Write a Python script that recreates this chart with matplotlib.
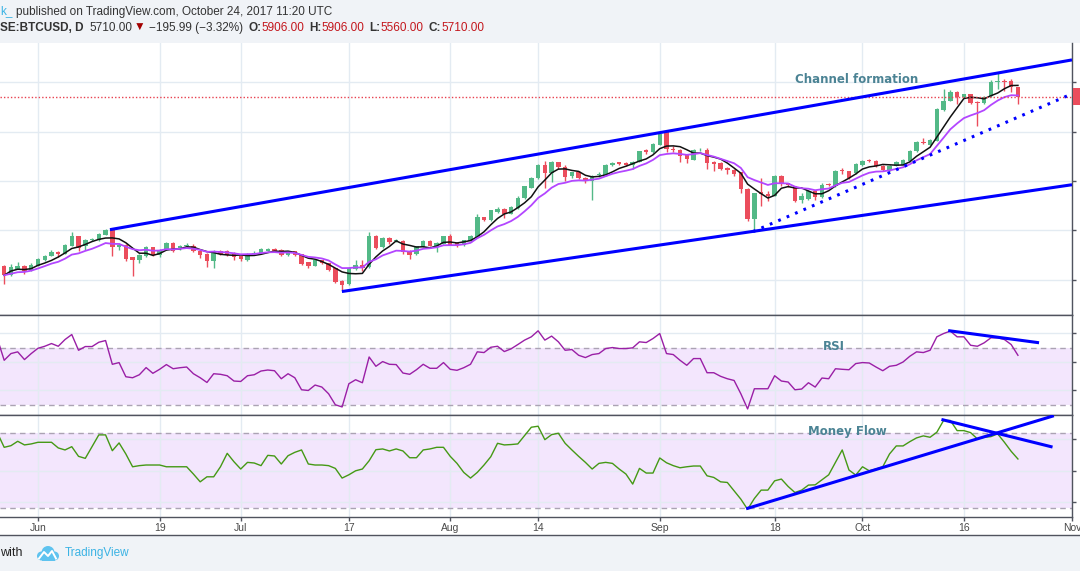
import matplotlib
matplotlib.use("Agg")
import matplotlib.pyplot as plt
import numpy as np
import pandas as pd
from matplotlib.patches import Rectangle, Circle
from matplotlib.lines import Line2D

plt.rcParams["font.family"] = ["Liberation Sans", "DejaVu Sans"]

# daily candles, day 0 = 1 June 2017 (27 May .. 24 Oct)
days = np.arange(-5, 146)
opens = [2289, 2094, 2228, 2289, 2195, 2289, 2410, 2491, 2558, 2525,
         2693, 2882, 2679, 2800, 2800, 2915, 3016, 2666, 2713, 2457,
         2396, 2477, 2659, 2511, 2612, 2747, 2626, 2690, 2693, 2592,
         2525, 2390, 2592, 2578, 2545, 2477, 2410, 2531, 2545, 2590,
         2626, 2612, 2497, 2578, 2525, 2356, 2289, 2396, 2343, 2242,
         1972, 1919, 2228, 2309, 2262, 2882, 2659, 2848, 2790, 2780,
         2592, 2517, 2673, 2794, 2666, 2733, 2882, 2747, 2700, 2780,
         2848, 3265, 3218, 3373, 3440, 3339, 3454, 3656, 3858, 4060,
         4329, 4161, 4383, 4282, 4093, 4181, 4060, 3993, 4115, 4127,
         4315, 4376, 4363, 4329, 4390, 4618, 4586, 4733, 4990, 4652,
         4632, 4517, 4430, 4640, 4632, 4376, 4363, 4262, 4228, 4174,
         3838, 3238, 3770, 3743, 3703, 4107, 3959, 3891, 3622, 3636,
         3790, 3677, 3935, 3891, 4215, 4194, 4161, 4329, 4420, 4410,
         4309, 4214, 4309, 4329, 4396, 4598, 4780, 4733, 4820, 5440,
         5628, 5810, 5697, 5757, 5600, 5575, 5723, 6012, 6030, 6032,
         5906]
highs = [2300, 2330, 2370, 2300, 2340, 2440, 2500, 2610, 2580, 2730,
         2960, 2890, 2830, 2850, 2945, 3020, 3020, 2740, 2720, 2470,
         2520, 2680, 2670, 2630, 2760, 2770, 2710, 2740, 2720, 2600,
         2540, 2600, 2610, 2600, 2570, 2490, 2540, 2590, 2640, 2650,
         2640, 2620, 2590, 2590, 2530, 2370, 2420, 2410, 2350, 2250,
         1990, 2260, 2410, 2400, 2960, 2900, 2870, 2860, 2820, 2800,
         2600, 2690, 2810, 2800, 2760, 2890, 2920, 2760, 2810, 2900,
         3330, 3270, 3420, 3480, 3450, 3500, 3700, 3900, 4080, 4340,
         4410, 4400, 4390, 4320, 4190, 4200, 4080, 4120, 4180, 4345,
         4380, 4390, 4375, 4400, 4610, 4650, 4770, 4970, 5000, 4700,
         4640, 4530, 4650, 4670, 4660, 4400, 4380, 4280, 4240, 4180,
         3850, 3760, 4060, 3800, 4120, 4120, 3970, 3900, 3760, 3820,
         3800, 3950, 3960, 4220, 4260, 4210, 4360, 4420, 4440, 4420,
         4320, 4320, 4400, 4450, 4630, 4800, 4880, 4850, 5470, 5860,
         5850, 5830, 5770, 5770, 5620, 5720, 6040, 6180, 6060, 6060,
         5906]
lows = [1925, 2080, 2210, 2120, 2180, 2280, 2390, 2480, 2470, 2520,
        2680, 2590, 2610, 2780, 2790, 2910, 2477, 2600, 2380, 2073,
        2350, 2460, 2480, 2470, 2600, 2560, 2600, 2660, 2560, 2440,
        2255, 2250, 2500, 2490, 2400, 2390, 2390, 2510, 2520, 2590,
        2560, 2480, 2480, 2480, 2310, 2250, 2280, 2320, 2180, 1930,
        1800, 1900, 2200, 2174, 2250, 2620, 2640, 2730, 2770, 2520,
        2430, 2500, 2660, 2680, 2560, 2720, 2700, 2660, 2690, 2770,
        2840, 3200, 3200, 3360, 3250, 3330, 3440, 3640, 3850, 4050,
        3858, 3980, 4250, 4000, 4060, 4040, 3960, 3622, 4090, 4110,
        4300, 4320, 4310, 4240, 4380, 4550, 4570, 4720, 4590, 4590,
        4380, 4370, 4420, 4610, 4250, 4200, 4230, 4150, 4100, 3750,
        3190, 2980, 3487, 3600, 3690, 3900, 3880, 3570, 3560, 3620,
        3620, 3660, 3890, 3880, 4150, 4040, 4140, 4310, 4390, 4280,
        4200, 4200, 4300, 4320, 4390, 4590, 4740, 4720, 4810, 5420,
        5610, 5560, 5680, 5560, 5117, 5560, 5700, 5870, 5820, 5800,
        5560]
closes = [2094, 2262, 2289, 2188, 2303, 2430, 2491, 2558, 2531, 2713,
          2882, 2646, 2814, 2820, 2935, 3016, 2659, 2713, 2430, 2396,
          2497, 2659, 2497, 2612, 2747, 2592, 2693, 2700, 2578, 2497,
          2390, 2592, 2531, 2511, 2457, 2424, 2531, 2545, 2626, 2626,
          2578, 2497, 2578, 2497, 2329, 2289, 2396, 2343, 2208, 1952,
          1905, 2242, 2309, 2242, 2882, 2646, 2848, 2760, 2810, 2558,
          2511, 2679, 2794, 2693, 2747, 2882, 2713, 2700, 2800, 2882,
          3265, 3218, 3406, 3440, 3339, 3467, 3656, 3891, 4060, 4329,
          4161, 4383, 4275, 4080, 4174, 4060, 3993, 4107, 4135, 4329,
          4363, 4343, 4329, 4390, 4598, 4578, 4753, 4955, 4652, 4618,
          4497, 4444, 4618, 4650, 4363, 4343, 4248, 4214, 4147, 3838,
          3238, 3757, 3743, 3703, 4107, 3959, 3925, 3602, 3703, 3804,
          3677, 3925, 3910, 4194, 4200, 4060, 4349, 4410, 4410, 4295,
          4214, 4309, 4376, 4430, 4612, 4780, 4760, 4834, 5454, 5628,
          5810, 5697, 5757, 5575, 5588, 5697, 6012, 6032, 6010, 5911,
          5710]

# indicator values, one day earlier so the lines reach the left edge
ind_days = np.arange(-6, 146)
rsi = [76.0, 61.1, 65.8, 67.0, 61.6, 65.8, 69.5, 70.9, 72.8, 70.9,
       75.6, 79.1, 68.1, 70.7, 70.7, 73.7, 74.9, 58.3, 59.5, 49.6,
       48.9, 51.0, 56.0, 52.0, 54.8, 58.1, 55.2, 55.9, 56.4, 51.7,
       48.9, 45.6, 51.7, 51.3, 50.3, 46.6, 46.3, 50.3, 51.0, 53.6,
       54.3, 53.8, 48.2, 51.7, 48.9, 40.5, 40.0, 43.8, 42.4, 37.7,
       30.0, 28.5, 44.7, 47.5, 45.4, 63.4, 56.9, 60.2, 58.3, 58.1,
       52.2, 51.3, 54.5, 58.3, 55.5, 55.5, 59.5, 54.8, 54.1, 55.9,
       58.3, 67.0, 66.5, 70.2, 70.9, 67.2, 69.1, 72.1, 75.2, 77.5,
       81.7, 75.2, 78.0, 74.0, 68.1, 68.6, 64.6, 63.0, 65.1, 65.8,
       69.3, 70.0, 69.3, 69.3, 69.8, 74.0, 73.5, 76.3, 79.8, 65.8,
       65.1, 61.1, 57.6, 62.3, 62.3, 52.4, 52.4, 49.9, 48.2, 47.0,
       37.7, 27.1, 41.2, 41.2, 41.2, 50.3, 46.6, 45.9, 40.5, 41.0,
       45.4, 42.4, 48.7, 48.2, 55.2, 54.8, 54.5, 58.8, 59.5, 59.2,
       56.4, 53.8, 56.9, 57.6, 59.9, 63.9, 67.0, 66.5, 68.1, 77.5,
       79.8, 81.5, 77.5, 77.5, 71.6, 70.9, 73.3, 76.8, 76.8, 75.6,
       72.1, 64.6]
mfi = [80.0, 68.6, 69.9, 73.4, 70.5, 71.3, 72.6, 72.6, 72.6, 68.1,
       66.5, 69.1, 61.4, 59.8, 69.1, 78.5, 78.5, 65.9, 72.1, 63.3,
       53.1, 54.0, 54.5, 54.5, 54.5, 53.1, 53.1, 53.1, 53.1, 47.3,
       41.1, 45.1, 45.1, 53.1, 63.8, 57.1, 51.3, 56.6, 56.1, 54.0,
       62.2, 61.7, 55.3, 61.9, 64.6, 66.5, 55.3, 54.5, 54.5, 54.0,
       51.8, 44.1, 46.7, 49.9, 51.3, 57.9, 66.7, 67.3, 65.7, 67.3,
       65.7, 60.3, 60.3, 66.5, 67.3, 68.6, 68.6, 61.4, 55.8, 48.6,
       44.1, 48.6, 54.5, 61.1, 71.8, 70.5, 70.8, 71.3, 77.9, 84.6,
       85.4, 74.7, 78.7, 79.8, 71.8, 66.5, 61.4, 56.6, 51.3, 55.8,
       56.6, 55.8, 51.3, 47.3, 39.3, 51.8, 48.1, 48.1, 60.1, 56.3,
       54.0, 52.3, 53.1, 53.7, 53.7, 45.9, 44.6, 41.1, 40.6, 33.9,
       27.3, 19.2, 27.8, 34.5, 34.5, 41.9, 43.3, 37.4, 32.6, 34.5,
       38.5, 38.7, 42.7, 46.7, 56.6, 66.5, 50.5, 46.5, 53.1, 49.9,
       51.3, 53.1, 63.3, 69.7, 69.7, 73.1, 76.1, 77.7, 76.6, 80.6,
       90.0, 90.0, 81.9, 81.9, 80.3, 75.3, 76.6, 77.1, 79.3, 72.6,
       65.4, 59.3]

tick_days = [0, 18, 30, 46, 61, 74, 92, 109, 122, 137, 153]
tick_labels = ["Jun", "19", "Jul", "17", "Aug", "14", "Sep", "18", "Oct", "16", "Nov"]
price_ticks = [2000, 3000, 4000, 5000, 6000]

# hand drawn lines: (days, values)
channel_top = ([10.65, 153.0], [3016, 6451])
channel_bottom = ([44.97, 153.0], [1764, 3925])
support_dotted = ([105.8, 152.4], [2976, 5729])
rsi_trend = ([134.9, 147.9], [81.7, 73.5])
mfi_rising = ([105.0, 150.1], [20.0, 93.4])
mfi_falling = ([133.9, 149.9], [90.5, 69.1])

GREEN, RED = "#53b987", "#eb4d5c"
GRID, SPINE = "#e3ebf2", "#50535e"
LABEL = "#4b8394"
BLUE = "#0000ff"

W, H = 1080, 571


def box(x0, y0, x1, y1):
    return [x0 / W, 1 - y1 / H, (x1 - x0) / W, (y1 - y0) / H]


fig = plt.figure(figsize=(W / 100, H / 100), dpi=100)
# header and footer bands (drawn below the axes)
fig.patches.append(Rectangle((0, 1 - 43 / H), 1, 43 / H, transform=fig.transFigure,
                             fc="#f0f3f7", ec="none", zorder=-1))
fig.patches.append(Rectangle((0, 0), 1, 36 / H, transform=fig.transFigure,
                             fc="#f0f3f7", ec="none", zorder=-1))
fig.add_artist(Line2D([0, 1], [1 - 534.5 / H] * 2, transform=fig.transFigure, color=SPINE, lw=1))

ax = fig.add_axes(box(0, 43, 1072, 314.5))
ax_rsi = fig.add_axes(box(0, 314.5, 1072, 414.8), sharex=ax)
ax_mfi = fig.add_axes(box(0, 414.8, 1072, 516.6), sharex=ax)


def style(a, yticks, ylim):
    a.set_ylim(*ylim)
    a.set_yticks(yticks)
    a.yaxis.tick_right()
    a.tick_params(axis="y", direction="out", length=3, width=1, color=SPINE,
                  labelright=False, labelleft=False)
    a.grid(True, color=GRID, lw=1)
    a.set_axisbelow(True)
    a.spines["left"].set_visible(False)
    for s in ["top", "right", "bottom"]:
        a.spines[s].set_color(SPINE)
        a.spines[s].set_linewidth(1)


style(ax, price_ticks, (1299, 6793))
style(ax_rsi, [40, 60, 80], (23.0, 93.1))
style(ax_mfi, [25, 50, 75], (13.4, 94.5))
ax.spines["top"].set_visible(False)

ax.set_xlim(-5.62, 153.0)
ax_mfi.set_xticks(tick_days, tick_labels)
ax_mfi.tick_params(axis="x", direction="out", length=3, width=1, color=SPINE,
                   labelsize=7.5, labelcolor="#4a4a4a", pad=1.5)
for a in (ax, ax_rsi):
    a.tick_params(axis="x", length=0, labelbottom=False)

# candles
o = np.array(opens, float)
c = np.array(closes, float)
cols = np.where(c >= o, GREEN, RED)
ax.vlines(days, lows, highs, colors=cols, lw=1, zorder=2)
ax.bar(days, np.maximum(np.abs(c - o), 12), bottom=np.minimum(o, c), width=0.66,
       color=cols, lw=0, zorder=3)

# moving averages
s = pd.Series(closes, index=days)
ax.plot(days, s.rolling(5, min_periods=1).mean(), color="#111111", lw=1.1, zorder=4)
ax.plot(days, s.ewm(span=10, adjust=False).mean(), color="#b346ff", lw=1.3, zorder=4)

# last price line and the (cut off) price marker on the scale
ax.axhline(closes[-1], color="#e8414f", lw=1, ls=(0, (1, 1.5)), zorder=5)
ax.add_patch(Rectangle((1.001, closes[-1] - 165), 0.02, 330, transform=ax.get_yaxis_transform(),
                       fc=RED, ec="none", clip_on=False, zorder=5))

# channel
ax.plot(*channel_top, color=BLUE, lw=2.2, zorder=6, solid_capstyle="butt")
ax.plot(*channel_bottom, color=BLUE, lw=2.2, zorder=6, solid_capstyle="butt")
ax.plot(*support_dotted, color=BLUE, lw=2.2, ls=(0, (0.9, 2.1)), zorder=6)
ax.text(121.2, 6046, "Channel formation", color=LABEL, fontsize=8.5, fontweight="bold",
        family="DejaVu Sans", ha="center", va="center", zorder=7)

# RSI
ax_rsi.axhspan(30, 70, color="#f3e6fd", zorder=0.3, lw=0)
for lvl in (30, 70):
    ax_rsi.axhline(lvl, color="#aba3b3", lw=1, ls=(0, (4, 3)), zorder=1)
ax_rsi.plot(ind_days, rsi, color="#9a1fa6", lw=1, zorder=3)
ax_rsi.plot(*rsi_trend, color=BLUE, lw=2.2, zorder=4)
ax_rsi.text(117.8, 71.0, "RSI", color=LABEL, fontsize=8.5, fontweight="bold",
            family="DejaVu Sans", ha="center", va="center", zorder=5)

# Money flow
ax_mfi.axhspan(20, 80, color="#f3e6fd", zorder=0.3, lw=0)
for lvl in (20, 80):
    ax_mfi.axhline(lvl, color="#aba3b3", lw=1, ls=(0, (4, 3)), zorder=1)
ax_mfi.plot(ind_days, mfi, color="#459915", lw=1, zorder=3)
ax_mfi.plot(*mfi_rising, color=BLUE, lw=2.2, zorder=4)
ax_mfi.plot(*mfi_falling, color=BLUE, lw=2.2, zorder=4)
ax_mfi.text(119.8, 80.8, "Money Flow", color=LABEL, fontsize=8.5, fontweight="bold",
            family="DejaVu Sans", ha="center", va="center", zorder=5)

# header text, written piece by piece
renderer = fig.canvas.get_renderer()


def write_runs(y, parts, x=0.0, size=8.5):
    for text, col, bold, gap in parts:
        t = fig.text(x / W, 1 - y / H, text, color=col, fontsize=size,
                     fontweight="bold" if bold else "normal", va="center", ha="left")
        x = t.get_window_extent(renderer).x1 + gap


DARK, VAL = "#333333", "#c3161c"
write_runs(11.5, [("k_", "#3bb3e4", False, 4),
                  ("published on TradingView.com, October 24, 2017 11:20 UTC", DARK, False, 0)])
write_runs(28.0, [("SE:BTCUSD, D", DARK, True, 6), ("5710.00", DARK, False, 1),
                  ("\u25bc", "#a30000", False, 4), ("\u2212195.99 (\u22123.32%)", DARK, False, 5),
                  ("O:", DARK, True, 0), ("5906.00", VAL, False, 5),
                  ("H:", DARK, True, 0), ("5906.00", VAL, False, 5),
                  ("L:", DARK, True, 0), ("5560.00", VAL, False, 5),
                  ("C:", DARK, True, 0), ("5710.00", VAL, False, 0)])

# footer
fig.text(0.5 / W, 1 - 553 / H, "with", color="#222222", fontsize=9, va="center", ha="left")
fig.text(65 / W, 1 - 553 / H, "TradingView", color="#3bb3e4", fontsize=8.5, va="center", ha="left")
logo = fig.add_axes(box(35, 544, 60, 562))
logo.set_xlim(0, 25)
logo.set_ylim(0, 18)
logo.axis("off")
for cx, cy, r in [(6.5, 6, 4.5), (13, 9.5, 6.5), (19.5, 6, 4.5)]:
    logo.add_patch(Circle((cx, cy), r, color="#5ec3ef", lw=0))
logo.add_patch(Rectangle((6.5, 1.5), 13, 5, color="#5ec3ef", lw=0))
logo.plot([4, 9, 13, 17, 21], [3.5, 10, 6, 11, 3.5], color="white", lw=1.4)

fig.savefig("out.png", dpi=100)
